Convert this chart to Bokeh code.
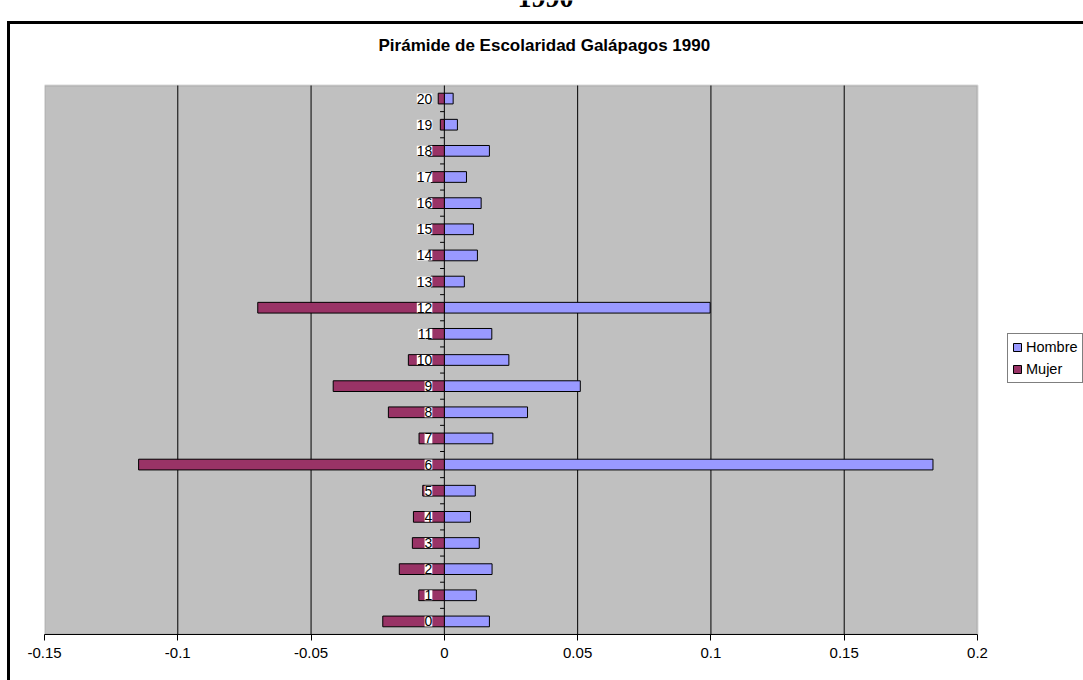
from bokeh.plotting import figure
from bokeh.models import (Range1d, FixedTicker, LabelSet, Label, ColumnDataSource,
                          BoxAnnotation, Legend, LegendItem)
from bokeh.embed import file_html
from bokeh.resources import INLINE
from bokeh.core.properties import value

# ---------------- data ----------------
categories = [str(i) for i in range(21)]
hombre = [0.0169, 0.0120, 0.0179, 0.0131, 0.0098, 0.0116, 0.1833, 0.0182, 0.0312, 0.0510,
          0.0242, 0.0178, 0.0997, 0.0075, 0.0124, 0.0109, 0.0138, 0.0083, 0.0169, 0.0049, 0.0033]
mujer = [-0.0231, -0.0096, -0.0169, -0.0120, -0.0116, -0.0081, -0.1147, -0.0095, -0.0210, -0.0417,
         -0.0135, -0.0060, -0.0700, -0.0050, -0.0060, -0.0050, -0.0060, -0.0050, -0.0060, -0.0015, -0.0023]
tick_values = [-0.15, -0.1, -0.05, 0, 0.05, 0.1, 0.15, 0.2]
tick_labels = ["-0.15", "-0.1", "-0.05", "0", "0.05", "0.1", "0.15", "0.2"]
title_text = "Pirámide de Escolaridad Galápagos 1990"
heading_text = "1990"
series_names = ["Hombre", "Mujer"]

FONT = "Liberation Sans"

# ---------------- geometry (pixels) ----------------
AREA_W, AREA_H = 933, 549        # grey plot area
LEFT, TOP, RIGHT_EXTRA, BOTTOM = 44, 85, 106, 46

x0, x1 = tick_values[0], tick_values[-1]
y0, y1 = -0.5, len(categories) - 0.5
x_end = x1 + RIGHT_EXTRA * (x1 - x0) / AREA_W
y_end = y1 + TOP * (y1 - y0) / AREA_H

ypos = [int(c) for c in categories]
src = ColumnDataSource(dict(y=ypos, cat=categories, h=hombre, m=mujer))

p = figure(frame_width=AREA_W + RIGHT_EXTRA, frame_height=AREA_H + TOP, title=None,
           output_backend="svg", toolbar_location=None,
           x_range=Range1d(x0, x_end), y_range=Range1d(y0, y_end),
           min_border_left=LEFT, min_border_right=0, min_border_top=0, min_border_bottom=BOTTOM)

p.background_fill_alpha = 0
p.border_fill_alpha = 0
p.outline_line_color = None

# outer chart border (thick black lines at top and left), drawn as the page background
p.styles = {"background": ("linear-gradient(#000,#000) 7px 21px / 3px 800px no-repeat, "
                           "linear-gradient(#000,#000) 7px 21px / 1200px 3px no-repeat, #fff")}

# grey plot area
p.add_layout(BoxAnnotation(left=x0, right=x1, bottom=y0, top=y1, level="image",
                           fill_color="#C0C0C0", fill_alpha=1,
                           line_color="#808080", line_width=2))

p.yaxis.visible = False
p.ygrid.visible = False
p.xgrid.visible = False

p.xaxis.ticker = FixedTicker(ticks=tick_values)
p.xaxis.bounds = (x0, x1)
p.xaxis.major_label_overrides = {v: l for v, l in zip(tick_values, tick_labels)}
p.xaxis.axis_line_color = "black"
p.xaxis.axis_line_width = 1
p.xaxis.major_tick_line_color = "black"
p.xaxis.major_tick_out = 6
p.xaxis.major_tick_in = 0
p.xaxis.minor_tick_line_color = None
p.xaxis.major_label_text_font = FONT
p.xaxis.major_label_text_font_size = "15px"
p.xaxis.major_label_text_color = "black"
p.xaxis.major_label_standoff = 7

# vertical grid lines (incl. the zero axis), limited to the plot area
inner = tick_values[1:-1]
p.segment(x0=inner, x1=inner, y0=[y0] * len(inner), y1=[y1] * len(inner),
          line_color="black", line_width=1)

rh = p.hbar(y="y", left=0, right="h", height=0.41, source=src,
            fill_color="#9999FF", line_color="black", line_width=1)
rm = p.hbar(y="y", left="m", right=0, height=0.41, source=src,
            fill_color="#993366", line_color="black", line_width=1)

# small tick marks at category boundaries on the zero axis
bounds = [y + 0.5 for y in ypos[:-1]]
p.segment(x0=[0] * len(bounds), x1=[-0.0016] * len(bounds), y0=bounds, y1=bounds,
          line_color="black", line_width=1)

labels = LabelSet(x=0, y="y", text="cat", source=src, x_offset=-12,
                  text_align="right", text_baseline="middle",
                  text_font=value(FONT), text_font_size="14px", text_color="black",
                  background_fill_color="white")
p.add_layout(labels)

legend = Legend(items=[LegendItem(label=series_names[0], renderers=[rh]),
                       LegendItem(label=series_names[1], renderers=[rm])],
                location=(963, 251))
legend.label_text_font = FONT
legend.label_text_font_size = "14.5px"
legend.label_text_color = "black"
legend.label_width = 10
legend.glyph_width = 10
legend.glyph_height = 10
legend.label_height = 18
legend.label_standoff = 4
legend.spacing = 4
legend.padding = 4
legend.margin = 0
legend.border_line_color = "black"
legend.border_line_width = 1
legend.background_fill_color = "white"
legend.background_fill_alpha = 1
p.add_layout(legend)

# chart title and the (cut off) page heading above the chart
p.add_layout(Label(x=334, y=589, x_units="screen", y_units="screen", text=title_text,
                   text_font=FONT, text_font_size="17px", text_font_style="bold",
                   text_align="left", text_baseline="alphabetic", text_color="black"))
p.add_layout(Label(x=501, y=637, x_units="screen", y_units="screen", text=heading_text,
                   text_font="Liberation Serif", text_font_size="28px", text_font_style="bold",
                   text_align="center", text_baseline="alphabetic", text_color="black"))

open("out.html", "w").write(file_html(p, INLINE))
